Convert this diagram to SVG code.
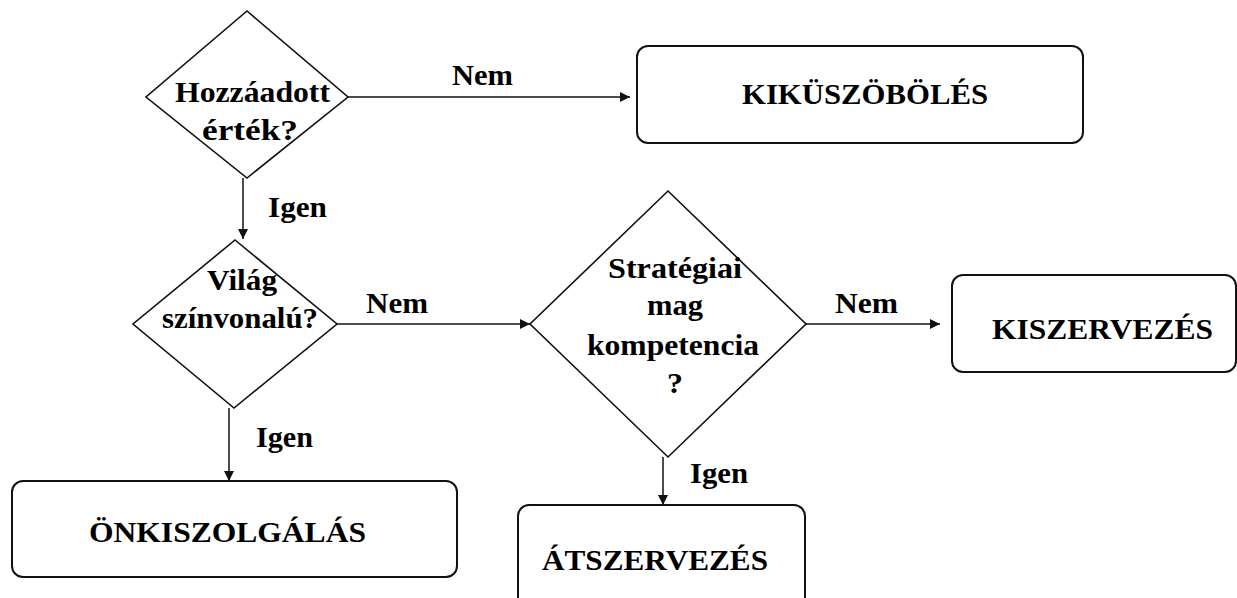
<svg xmlns="http://www.w3.org/2000/svg" width="1237" height="598" viewBox="0 0 1237 598">
  <style>
    .shape { fill: #ffffff; stroke: #111111; stroke-width: 1.6; }
    .box { fill: #ffffff; stroke: #111111; stroke-width: 2; }
    .edge { fill: none; stroke: #111111; stroke-width: 1.5; }
    text { font-family: "Liberation Serif", "Times New Roman", serif; font-weight: bold; font-size: 29px; fill: #000000; }
  </style>
  <defs>
    <marker id="arrow" viewBox="0 0 10 10" refX="10" refY="5" markerWidth="11" markerHeight="10" markerUnits="userSpaceOnUse" orient="auto">
      <path d="M0,0 L10,5 L0,10 Z" fill="#111111"/>
    </marker>
  </defs>

  <rect width="1237" height="598" fill="#ffffff"/>

  <!-- connectors -->
  <g id="connectors">
    <line class="edge" x1="348" y1="97" x2="630" y2="97" marker-end="url(#arrow)"/>
    <text x="452" y="85" textLength="61" lengthAdjust="spacingAndGlyphs">Nem</text>
    <line class="edge" x1="243" y1="178" x2="243" y2="239" marker-end="url(#arrow)"/>
    <text x="268" y="217" textLength="59" lengthAdjust="spacingAndGlyphs">Igen</text>
    <line class="edge" x1="337" y1="324" x2="530" y2="324" marker-end="url(#arrow)"/>
    <text x="366" y="313" textLength="62" lengthAdjust="spacingAndGlyphs">Nem</text>
    <line class="edge" x1="806" y1="324" x2="940" y2="324" marker-end="url(#arrow)"/>
    <text x="835" y="313" textLength="63" lengthAdjust="spacingAndGlyphs">Nem</text>
    <line class="edge" x1="229" y1="408" x2="229" y2="481" marker-end="url(#arrow)"/>
    <text x="256" y="447" textLength="57" lengthAdjust="spacingAndGlyphs">Igen</text>
    <line class="edge" x1="663" y1="457" x2="663" y2="505" marker-end="url(#arrow)"/>
    <text x="690" y="483" textLength="58" lengthAdjust="spacingAndGlyphs">Igen</text>
  </g>

  <!-- decision: added value -->
  <g id="d-hozzaadott">
    <polygon class="shape" points="247,11 348,97 247,178 146,97"/>
    <text x="175" y="102" textLength="155" lengthAdjust="spacingAndGlyphs">Hozzáadott</text>
    <text x="202" y="140" textLength="96" lengthAdjust="spacingAndGlyphs">érték?</text>
  </g>

  <!-- decision: world class -->
  <g id="d-vilag">
    <polygon class="shape" points="235,240 337,324 234,408 133,324"/>
    <text x="207" y="290" textLength="70" lengthAdjust="spacingAndGlyphs">Világ</text>
    <text x="162" y="328" textLength="156" lengthAdjust="spacingAndGlyphs">színvonalú?</text>
  </g>

  <!-- decision: strategic core competence -->
  <g id="d-strategiai">
    <polygon class="shape" points="668,191 806,324 668,457 530,324"/>
    <text x="608" y="278" textLength="134" lengthAdjust="spacingAndGlyphs">Stratégiai</text>
    <text x="647" y="315" textLength="56" lengthAdjust="spacingAndGlyphs">mag</text>
    <text x="587" y="355" textLength="172" lengthAdjust="spacingAndGlyphs">kompetencia</text>
    <text x="667" y="393" textLength="16" lengthAdjust="spacingAndGlyphs">?</text>
  </g>

  <!-- outcome boxes -->
  <g id="n-kikuszoboles">
    <rect class="box" x="637" y="46" width="446" height="97" rx="11" ry="11"/>
    <text x="742" y="104" textLength="246" lengthAdjust="spacingAndGlyphs">KIKÜSZÖBÖLÉS</text>
  </g>

  <g id="n-kiszervezes">
    <rect class="box" x="952" y="275" width="284" height="97" rx="11" ry="11"/>
    <text x="992" y="339" textLength="221" lengthAdjust="spacingAndGlyphs">KISZERVEZÉS</text>
  </g>

  <g id="n-onkiszolgalas">
    <rect class="box" x="12" y="481" width="445" height="96" rx="11" ry="11"/>
    <text x="89" y="542" textLength="277" lengthAdjust="spacingAndGlyphs">ÖNKISZOLGÁLÁS</text>
  </g>

  <g id="n-atszervezes">
    <rect class="box" x="518" y="505" width="287" height="110" rx="11" ry="11"/>
    <text x="542" y="570" textLength="226" lengthAdjust="spacingAndGlyphs">ÁTSZERVEZÉS</text>
  </g>
</svg>
